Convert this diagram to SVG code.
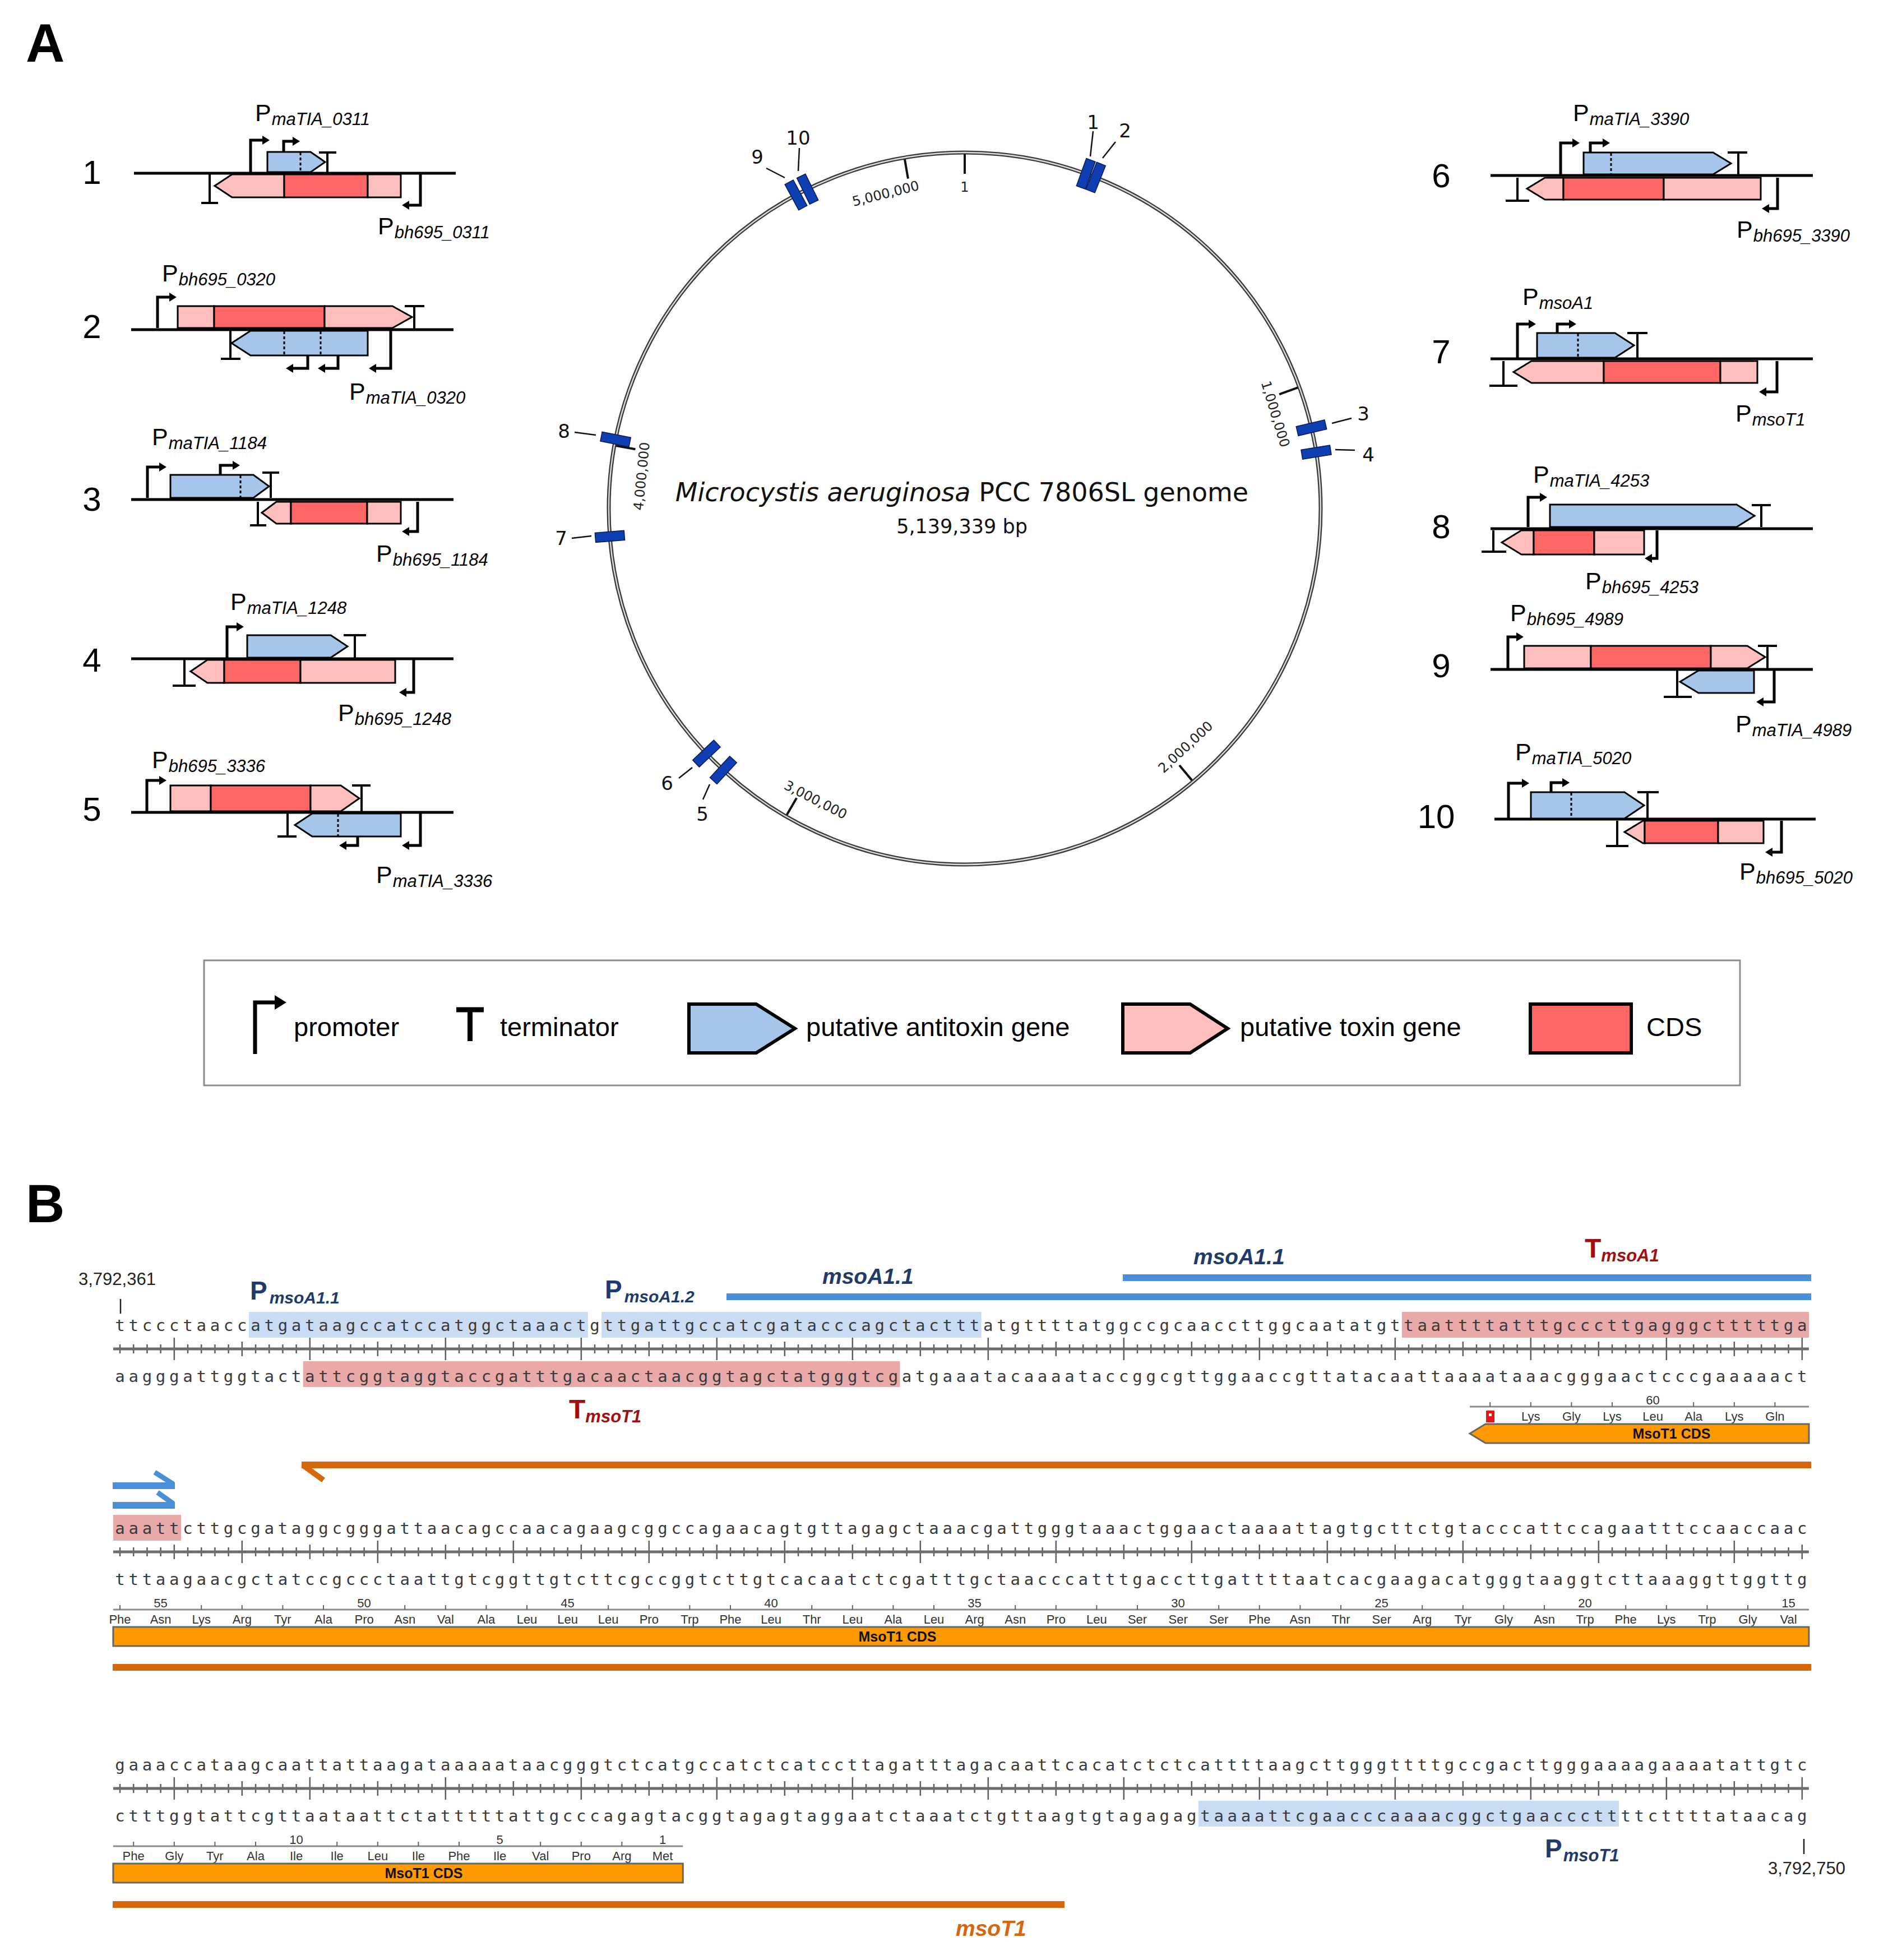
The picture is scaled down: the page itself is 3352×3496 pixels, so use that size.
<svg xmlns="http://www.w3.org/2000/svg" width="3352" height="3496" viewBox="0 0 3352 3496">
<style>
text{font-family:"Liberation Sans",Arial,sans-serif}
.num{font-size:60px}
.gl{font-size:43px}
.gs{font-size:31px;font-style:italic}
.bb{stroke:#000;stroke-width:5}
.g{stroke:#000;stroke-width:3}
.lp{fill:#ffbfbf}.rd{fill:#ff6666}.bl{fill:#a5c5ea}
.pr{fill:none;stroke:#000;stroke-width:5;marker-end:url(#ah)}
.tm{fill:none;stroke:#000;stroke-width:4}
.dt{stroke:#000;stroke-width:3;stroke-dasharray:5 4}
.dj{font-family:"DejaVu Sans",Verdana,sans-serif}
.sc{font-family:"DejaVu Sans",Verdana,sans-serif;font-size:24px;fill:#222}
.cn{font-family:"DejaVu Sans",Verdana,sans-serif;font-size:34px;fill:#111;text-anchor:middle}
.ld{stroke:#111;stroke-width:2.5}
.mk{fill:#0d3fb3;stroke:#061a55;stroke-width:1.5}
.lg{font-size:47px}
.seq{font-family:"DejaVu Sans Mono",monospace;font-size:29px;letter-spacing:6.74px;fill:#3a3a3a}
.aa{font-size:22px;fill:#333;text-anchor:middle}
.nv{fill:#1f3b6b;font-weight:bold}
.dr{fill:#a01010;font-weight:bold}
.hb{fill:#cadcf3}.hr{fill:#eaa9a9}
.cds{fill:#ff9900;stroke:#666;stroke-width:3}
.cdt{font-size:25px;font-weight:bold;fill:#111;text-anchor:middle}
.axl{stroke:#8c8c8c;stroke-width:3}
.axt{stroke:#666;stroke-width:2}
.rl{stroke:#6d6d6d;stroke-width:5}
.or{fill:#d5670c}.blu{fill:#4a8fd8}
</style>
<defs>
<marker id="ah" markerUnits="userSpaceOnUse" markerWidth="13" markerHeight="16" refX="0" refY="8" orient="auto" viewBox="0 0 13 16"><path d="M0,0 L13,8 L0,16 z" fill="#000"/></marker>
<pattern id="tk1" patternUnits="userSpaceOnUse" x="201.9" y="-20" width="242" height="40"><path d="M12.1,12v16M36.3,12v16M60.5,12v16M84.7,12v16M108.9,0v40M133.1,12v16M157.3,12v16M181.5,12v16M205.7,12v16M229.9,7v26" stroke="#555" stroke-width="2.4"/></pattern>
<pattern id="tk2" patternUnits="userSpaceOnUse" x="201.9" y="-20" width="242" height="40"><path d="M12.1,12v16M36.3,12v16M60.5,12v16M84.7,12v16M108.9,7v26M133.1,12v16M157.3,12v16M181.5,12v16M205.7,12v16M229.9,0v40" stroke="#555" stroke-width="2.4"/></pattern>
</defs>
<rect width="3352" height="3496" fill="#fff"/>

<text x="46" y="110" font-size="96" font-weight="bold">A</text>
<text x="46" y="2180" font-size="96" font-weight="bold">B</text>

<!-- Panel A numbers -->
<g id="numbers-left" class="num" text-anchor="middle">
<text x="164" y="328">1</text><text x="164" y="603">2</text><text x="164" y="911">3</text><text x="164" y="1198">4</text><text x="164" y="1464">5</text>
</g>
<g id="numbers-right" class="num" text-anchor="middle">
<text x="2571" y="334">6</text><text x="2571" y="648">7</text><text x="2571" y="960">8</text><text x="2571" y="1208">9</text><text x="2562" y="1477">10</text>
</g>

<g id="tas1">
<line class="bb" x1="239" y1="309" x2="813" y2="309"/>
<polygon class="g lp" points="383,331.5 414,311 507,311 507,352 414,352"/>
<rect class="g rd" x="507" y="311" width="149" height="41"/>
<rect class="g lp" x="656" y="311" width="59" height="41"/>
<polygon class="g bl" points="477,271 554,271 580,289 554,307 477,307"/>
<line class="dt" x1="536" y1="272" x2="536" y2="306"/>
<path class="pr" d="M447,307 V250 H468"/>
<path class="pr" d="M506,271 V252 H522"/>
<path class="tm" d="M584,307 V272 M569,272 H600"/>
<path class="tm" d="M374,311 V362 M359,362 H389"/>
<path class="pr" d="M750,311 V366 H730"/>
<text class="gl" x="455" y="216">P<tspan class="gs" dx="1" dy="7">maTIA_0311</tspan></text>
<text class="gl" x="674" y="418">P<tspan class="gs" dx="1" dy="7">bh695_0311</tspan></text>
</g>

<g id="tas2">
<line class="bb" x1="234" y1="588" x2="809" y2="588"/>
<rect class="g lp" x="317" y="546" width="65" height="39"/>
<rect class="g rd" x="382" y="546" width="197" height="39"/>
<polygon class="g lp" points="579,546 700,546 735,565.5 700,585 579,585"/>
<path class="pr" d="M281,585 V530 H302"/>
<path class="tm" d="M739,586 V546 M722,546 H757"/>
<polygon class="g bl" points="413,612 447,590 656,590 656,634 447,634"/>
<line class="dt" x1="507" y1="591" x2="507" y2="633"/>
<line class="dt" x1="572" y1="591" x2="572" y2="633"/>
<path class="tm" d="M411,590 V640 M394,640 H429"/>
<path class="pr" d="M549,634 V657 H523"/>
<path class="pr" d="M603,634 V657 H580"/>
<path class="pr" d="M697,590 V657 H671"/>
<text class="gl" x="289" y="502">P<tspan class="gs" dx="1" dy="7">bh695_0320</tspan></text>
<text class="gl" x="623" y="713">P<tspan class="gs" dx="1" dy="7">maTIA_0320</tspan></text>
</g>

<g id="tas3">
<line class="bb" x1="234" y1="891" x2="809" y2="891"/>
<polygon class="g bl" points="304,847 452,847 480,867.5 452,888 304,888"/>
<line class="dt" x1="429" y1="848" x2="429" y2="887"/>
<path class="pr" d="M263,888 V833 H284"/>
<path class="pr" d="M393,847 V830 H415"/>
<path class="tm" d="M483,888 V843 M468,843 H498"/>
<polygon class="g lp" points="467,914.5 493,895 519,895 519,934 493,934"/>
<rect class="g rd" x="519" y="895" width="136" height="39"/>
<rect class="g lp" x="655" y="895" width="60" height="39"/>
<path class="tm" d="M460,895 V937 M446,937 H475"/>
<path class="pr" d="M745,895 V948 H730"/>
<text class="gl" x="271" y="794">P<tspan class="gs" dx="1" dy="7">maTIA_1184</tspan></text>
<text class="gl" x="671" y="1002">P<tspan class="gs" dx="1" dy="7">bh695_1184</tspan></text>
</g>

<g id="tas4">
<line class="bb" x1="234" y1="1175" x2="809" y2="1175"/>
<polygon class="g bl" points="441,1133 590,1133 620,1153 590,1173 441,1173"/>
<path class="pr" d="M405,1173 V1118 H422"/>
<path class="tm" d="M633,1173 V1133 M613,1133 H653"/>
<polygon class="g lp" points="340,1197.5 370,1177 400,1177 400,1218 370,1218"/>
<rect class="g rd" x="400" y="1177" width="136" height="41"/>
<rect class="g lp" x="536" y="1177" width="169" height="41"/>
<path class="tm" d="M329,1177 V1223 M308,1223 H349"/>
<path class="pr" d="M738,1177 V1235 H725"/>
<text class="gl" x="411" y="1088">P<tspan class="gs" dx="1" dy="7">maTIA_1248</tspan></text>
<text class="gl" x="603" y="1286">P<tspan class="gs" dx="1" dy="7">bh695_1248</tspan></text>
</g>

<g id="tas5">
<line class="bb" x1="234" y1="1449" x2="809" y2="1449"/>
<rect class="g lp" x="304" y="1401" width="72" height="46"/>
<rect class="g rd" x="376" y="1401" width="178" height="46"/>
<polygon class="g lp" points="554,1401 608,1401 641,1424 608,1447 554,1447"/>
<path class="pr" d="M262,1447 V1392 H284"/>
<path class="tm" d="M645,1447 V1401 M628,1401 H661"/>
<polygon class="g bl" points="526,1471.5 557,1451 715,1451 715,1492 557,1492"/>
<line class="dt" x1="603" y1="1452" x2="603" y2="1491"/>
<path class="tm" d="M513,1451 V1492 M495,1492 H529"/>
<path class="pr" d="M638,1492 V1508 H618"/>
<path class="pr" d="M750,1451 V1508 H730"/>
<text class="gl" x="271" y="1370">P<tspan class="gs" dx="1" dy="7">bh695_3336</tspan></text>
<text class="gl" x="671" y="1575">P<tspan class="gs" dx="1" dy="7">maTIA_3336</tspan></text>
</g>

<g id="tas6">
<line class="bb" x1="2659" y1="313" x2="3234" y2="313"/>
<polygon class="g bl" points="2825,272 3056,272 3088,291.5 3056,311 2825,311"/>
<line class="dt" x1="2874" y1="273" x2="2874" y2="310"/>
<path class="pr" d="M2784,311 V255 H2805"/>
<path class="pr" d="M2837,272 V255 H2859"/>
<path class="tm" d="M3101,311 V272 M3082,272 H3117"/>
<polygon class="g lp" points="2724,336.5 2756,317 2789,317 2789,356 2756,356"/>
<rect class="g rd" x="2789" y="317" width="179" height="39"/>
<rect class="g lp" x="2968" y="317" width="173" height="39"/>
<path class="tm" d="M2707,317 V358 M2686,358 H2728"/>
<path class="pr" d="M3171,317 V372 H3156"/>
<text class="gl" x="2806" y="216">P<tspan class="gs" dx="1" dy="7">maTIA_3390</tspan></text>
<text class="gl" x="3098" y="424">P<tspan class="gs" dx="1" dy="7">bh695_3390</tspan></text>
</g>

<g id="tas7">
<line class="bb" x1="2659" y1="640" x2="3234" y2="640"/>
<polygon class="g bl" points="2742,594 2881,594 2915,616 2881,638 2742,638"/>
<line class="dt" x1="2815" y1="595" x2="2815" y2="637"/>
<path class="pr" d="M2707,638 V578 H2727"/>
<path class="pr" d="M2778,594 V578 H2799"/>
<path class="tm" d="M2921,638 V594 M2903,594 H2939"/>
<polygon class="g lp" points="2700,663.5 2732,644 2861,644 2861,683 2732,683"/>
<rect class="g rd" x="2861" y="644" width="208" height="39"/>
<rect class="g lp" x="3069" y="644" width="66" height="39"/>
<path class="tm" d="M2682,644 V688 M2657,688 H2707"/>
<path class="pr" d="M3170,644 V699 H3151"/>
<text class="gl" x="2716" y="544">P<tspan class="gs" dx="1" dy="7">msoA1</tspan></text>
<text class="gl" x="3096" y="752">P<tspan class="gs" dx="1" dy="7">msoT1</tspan></text>
</g>

<g id="tas8">
<line class="bb" x1="2659" y1="943" x2="3234" y2="943"/>
<polygon class="g bl" points="2765,900 3098,900 3130,920 3098,940 2765,940"/>
<path class="pr" d="M2726,940 V887 H2747"/>
<path class="tm" d="M3142,940 V901 M3125,901 H3159"/>
<polygon class="g lp" points="2679,967.5 2714,946 2736,946 2736,989 2714,989"/>
<rect class="g rd" x="2736" y="946" width="108" height="43"/>
<rect class="g lp" x="2844" y="946" width="89" height="43"/>
<path class="tm" d="M2664,946 V984 M2643,984 H2687"/>
<path class="pr" d="M2956,946 V996 H2947"/>
<text class="gl" x="2735" y="861">P<tspan class="gs" dx="1" dy="7">maTIA_4253</tspan></text>
<text class="gl" x="2828" y="1051">P<tspan class="gs" dx="1" dy="7">bh695_4253</tspan></text>
</g>

<g id="tas9">
<line class="bb" x1="2659" y1="1194" x2="3234" y2="1194"/>
<rect class="g lp" x="2719" y="1152" width="119" height="40"/>
<rect class="g rd" x="2838" y="1152" width="214" height="40"/>
<polygon class="g lp" points="3052,1152 3117,1152 3149,1172 3117,1192 3052,1192"/>
<path class="pr" d="M2690,1192 V1136 H2705"/>
<path class="tm" d="M3153,1192 V1152 M3136,1152 H3170"/>
<polygon class="g bl" points="2997,1216 3030,1196 3129,1196 3129,1236 3030,1236"/>
<path class="tm" d="M2992,1196 V1243 M2968,1243 H3018"/>
<path class="pr" d="M3165,1196 V1252 H3146"/>
<text class="gl" x="2694" y="1108">P<tspan class="gs" dx="1" dy="7">bh695_4989</tspan></text>
<text class="gl" x="3096" y="1306">P<tspan class="gs" dx="1" dy="7">maTIA_4989</tspan></text>
</g>

<g id="tas10">
<line class="bb" x1="2666" y1="1461" x2="3239" y2="1461"/>
<polygon class="g bl" points="2731,1413 2898,1413 2933,1436.5 2898,1460 2731,1460"/>
<line class="dt" x1="2803" y1="1414" x2="2803" y2="1459"/>
<path class="pr" d="M2691,1460 V1397 H2715"/>
<path class="pr" d="M2767,1413 V1396 H2787"/>
<path class="tm" d="M2939,1460 V1413 M2921,1413 H2959"/>
<polygon class="g lp" points="2898,1484 2931,1464 2934,1464 2934,1504 2931,1504"/>
<rect class="g rd" x="2934" y="1464" width="131" height="40"/>
<rect class="g lp" x="3065" y="1464" width="81" height="40"/>
<path class="tm" d="M2885,1464 V1509 M2865,1509 H2905"/>
<path class="pr" d="M3178,1464 V1520 H3162"/>
<text class="gl" x="2703" y="1356">P<tspan class="gs" dx="1" dy="7">maTIA_5020</tspan></text>
<text class="gl" x="3103" y="1569">P<tspan class="gs" dx="1" dy="7">bh695_5020</tspan></text>
</g>

<!-- genome map -->
<g id="genome">
<circle cx="1721" cy="907" r="635" fill="none" stroke="#3a3a3a" stroke-width="7"/>
<circle cx="1721" cy="907" r="635" fill="none" stroke="#dcdcdc" stroke-width="2.4"/>
<g stroke="#111" stroke-width="4">
<line x1="1721" y1="275" x2="1721" y2="310"/>
<line x1="1721" y1="275" x2="1721" y2="310" transform="rotate(70.05 1721 907)"/>
<line x1="1721" y1="275" x2="1721" y2="310" transform="rotate(140.1 1721 907)"/>
<line x1="1721" y1="275" x2="1721" y2="310" transform="rotate(210.15 1721 907)"/>
<line x1="1721" y1="275" x2="1721" y2="310" transform="rotate(280.2 1721 907)"/>
<line x1="1721" y1="275" x2="1721" y2="310" transform="rotate(350.25 1721 907)"/>
</g>
<text class="sc" x="1721" y="342" text-anchor="middle">1</text>
<text class="sc" x="1721" y="336" text-anchor="middle" transform="rotate(-14.1 1721 907)">5,000,000</text>
<text class="sc" x="1721" y="336" text-anchor="middle" transform="rotate(73.1 1721 907)">1,000,000</text>
<text class="sc" x="1721" y="336" text-anchor="middle" transform="rotate(-84.3 1721 907)">4,000,000</text>
<text class="sc" x="1721" y="1499" text-anchor="middle" transform="rotate(27.1 1721 907)">3,000,000</text>
<text class="sc" x="1721" y="1495" text-anchor="middle" transform="rotate(-42.8 1721 907)">2,000,000</text>
<text class="dj" x="1716" y="894" text-anchor="middle" font-size="46" fill="#111"><tspan font-style="italic">Microcystis aeruginosa</tspan> PCC 7806SL genome</text>
<text class="dj" x="1716" y="951" text-anchor="middle" font-size="35" fill="#111">5,139,339 bp</text>
<g class="mk">
<rect x="1712.5" y="246" width="17" height="52" transform="rotate(19.9 1721 907)"/>
<rect x="1712.5" y="246" width="17" height="52" transform="rotate(21.6 1721 907)"/>
<rect x="1712.5" y="246" width="17" height="52" transform="rotate(331.7 1721 907)"/>
<rect x="1712.5" y="246" width="17" height="52" transform="rotate(333.8 1721 907)"/>
<rect x="1712.5" y="246" width="17" height="52" transform="rotate(76.9 1721 907)"/>
<rect x="1712.5" y="246" width="17" height="52" transform="rotate(80.9 1721 907)"/>
<rect x="1712.5" y="246" width="17" height="52" transform="rotate(281.2 1721 907)"/>
<rect x="1712.5" y="246" width="17" height="52" transform="rotate(265.5 1721 907)"/>
<rect x="1712.5" y="246" width="17" height="52" transform="rotate(226.5 1721 907)"/>
<rect x="1712.5" y="246" width="17" height="52" transform="rotate(222.7 1721 907)"/>
</g>
<g class="ld">
<line x1="1950" y1="234" x2="1945" y2="279"/>
<line x1="1990" y1="253" x2="1967" y2="282"/>
<line x1="1367" y1="300" x2="1400" y2="317"/>
<line x1="1426" y1="264" x2="1424" y2="305"/>
<line x1="2376" y1="755" x2="2411" y2="746"/>
<line x1="2382" y1="802" x2="2417" y2="803"/>
<line x1="1025" y1="771" x2="1063" y2="776"/>
<line x1="1020" y1="960" x2="1055" y2="956"/>
<line x1="1211" y1="1388" x2="1235" y2="1369"/>
<line x1="1254" y1="1426" x2="1266" y2="1399"/>
</g>
<text class="cn" x="1950" y="230">1</text>
<text class="cn" x="2007" y="245">2</text>
<text class="cn" x="1351" y="292">9</text>
<text class="cn" x="1424" y="258">10</text>
<text class="cn" x="2432" y="750">3</text>
<text class="cn" x="2441" y="823">4</text>
<text class="cn" x="1006" y="781">8</text>
<text class="cn" x="1001" y="972">7</text>
<text class="cn" x="1190" y="1409">6</text>
<text class="cn" x="1253" y="1464">5</text>
</g>

<!-- legend -->
<g id="legend">
<rect x="364" y="1713" width="2740" height="223" fill="#fff" stroke="#8a8a8a" stroke-width="3"/>
<path d="M455,1880 V1788 H492" fill="none" stroke="#000" stroke-width="7"/>
<polygon points="490,1775 511,1788 490,1801" fill="#000"/>
<text class="lg" x="524" y="1848">promoter</text>
<path d="M814,1801 H863 M838.5,1801 V1857" fill="none" stroke="#000" stroke-width="9"/>
<text class="lg" x="892" y="1848">terminator</text>
<polygon points="1229,1791 1349,1791 1418,1834.5 1349,1878 1229,1878" fill="#a5c5ea" stroke="#000" stroke-width="6"/>
<text class="lg" x="1438" y="1848">putative antitoxin gene</text>
<polygon points="2003,1791 2123,1791 2190,1834.5 2123,1878 2003,1878" fill="#ffbfbf" stroke="#000" stroke-width="6"/>
<text class="lg" x="2212" y="1848">putative toxin gene</text>
<rect x="2730" y="1791" width="180" height="87" fill="#ff6666" stroke="#000" stroke-width="6"/>
<text class="lg" x="2937" y="1848">CDS</text>
</g>

<!-- Panel B -->
<g id="seq-row1">
<rect class="hb" x="443.9" y="2340" width="605" height="46"/>
<rect class="hb" x="1073.1" y="2340" width="677.6" height="46"/>
<rect class="hr" x="2500.9" y="2340" width="726" height="46"/>
<rect class="hr" x="540.7" y="2428" width="1064.8" height="46"/>
<text class="seq" x="205.27" y="2374">ttccctaaccatgataagccatccatggctaaactgttgattgccatcgatacccagctactttatgttttatggccgcaaccttggcaatatgttaattttatttgcccttgagggctttttga</text>
<text class="seq" x="205.27" y="2465">aagggattggtactattcggtaggtaccgatttgacaactaacggtagctatgggtcgatgaaatacaaaataccggcgttggaaccgttatacaattaaaataaacgggaactcccgaaaaact</text>
<g transform="translate(0,2406)">
<rect x="201.9" y="-20" width="3025" height="40" fill="url(#tk1)"/>
<line class="rl" x1="201.9" y1="0" x2="3226.9" y2="0"/>
</g>
<text x="140" y="2292" font-size="31" fill="#222">3,792,361</text>
<line x1="215" y1="2317" x2="215" y2="2343" stroke="#222" stroke-width="2.5"/>
<text class="nv" x="446" y="2318" font-size="46">P<tspan dx="4" dy="7" font-size="30" font-style="italic">msoA1.1</tspan></text>
<text class="nv" x="1079" y="2316" font-size="46">P<tspan dx="4" dy="7" font-size="30" font-style="italic">msoA1.2</tspan></text>
<rect class="blu" x="1296" y="2307" width="1935" height="12"/>
<rect class="blu" x="2003" y="2273" width="1228" height="12"/>
<text class="nv" x="1467" y="2290" font-size="39" font-style="italic">msoA1.1</text>
<text class="nv" x="2129" y="2255" font-size="39" font-style="italic">msoA1.1</text>
<text class="dr" x="2827" y="2243" font-size="48">T<tspan dy="7" font-size="31" font-style="italic">msoA1</tspan></text>
<text class="dr" x="1015" y="2530" font-size="48">T<tspan dy="7" font-size="31" font-style="italic">msoT1</tspan></text>
<line class="axl" x1="2622" y1="2509" x2="3227" y2="2509"/>
<path class="axt" d="M2658.2,2501v8M2730.8,2501v8M2803.4,2501v8M2876,2501v8M3021.2,2501v8M3093.8,2501v8M3166.4,2501v8"/>
<text class="aa" x="2948.6" y="2505">60</text>
<rect x="2651" y="2516" width="15" height="21" fill="#e8141b"/>
<rect x="2656" y="2521" width="5" height="5" fill="#fff"/>
<g class="aa"><text x="2730.8" y="2534">Lys</text><text x="2803.4" y="2534">Gly</text><text x="2876" y="2534">Lys</text><text x="2948.6" y="2534">Leu</text><text x="3021.2" y="2534">Ala</text><text x="3093.8" y="2534">Lys</text><text x="3166.4" y="2534">Gln</text></g>
<polygon class="cds" points="2622,2557 2650,2540 3227,2540 3227,2574 2650,2574"/>
<text class="cdt" x="2982" y="2566">MsoT1 CDS</text>
<rect class="or" x="538" y="2607" width="2693" height="12"/>
<line x1="541" y1="2614" x2="577" y2="2640" stroke="#d5670c" stroke-width="10"/>
</g>

<g id="seq-row2">
<rect class="blu" x="201" y="2644" width="111" height="12"/>
<line x1="309" y1="2647" x2="276" y2="2626" stroke="#4a8fd8" stroke-width="9"/>
<rect class="blu" x="201" y="2679" width="111" height="12"/>
<line x1="309" y1="2682" x2="281" y2="2662" stroke="#4a8fd8" stroke-width="9"/>
<rect class="hr" x="201.9" y="2702" width="121" height="46"/>
<text class="seq" x="205.27" y="2736">aaattcttgcgataggcgggattaacagccaacagaagcggccagaacagtgttagagctaaacgattgggtaaactggaactaaaattagtgcttctgtacccattccagaatttccaaccaac</text>
<text class="seq" x="205.27" y="2827">tttaagaacgctatccgccctaattgtcggttgtcttcgccggtcttgtcacaatctcgatttgctaacccatttgaccttgattttaatcacgaagacatgggtaaggtcttaaaggttggttg</text>
<g transform="translate(0,2768)">
<rect x="201.9" y="-20" width="3025" height="40" fill="url(#tk2)"/>
<line class="rl" x1="201.9" y1="0" x2="3226.9" y2="0"/>
</g>
<line class="axl" x1="201.9" y1="2871" x2="3226.9" y2="2871"/>
<path class="axt" d="M214,2863v8M359.2,2863v8M431.8,2863v8M504.4,2863v8M577,2863v8M722.2,2863v8M794.8,2863v8M867.4,2863v8M940,2863v8M1085.2,2863v8M1157.8,2863v8M1230.4,2863v8M1303,2863v8M1448.2,2863v8M1520.8,2863v8M1593.4,2863v8M1666,2863v8M1811.2,2863v8M1883.8,2863v8M1956.4,2863v8M2029,2863v8M2174.2,2863v8M2246.8,2863v8M2319.4,2863v8M2392,2863v8M2537.2,2863v8M2609.8,2863v8M2682.4,2863v8M2755,2863v8M2900.2,2863v8M2972.8,2863v8M3045.4,2863v8M3118,2863v8"/>
<g class="aa">
<text x="286.6" y="2867">55</text><text x="649.6" y="2867">50</text><text x="1012.6" y="2867">45</text><text x="1375.6" y="2867">40</text><text x="1738.6" y="2867">35</text><text x="2101.6" y="2867">30</text><text x="2464.6" y="2867">25</text><text x="2827.6" y="2867">20</text><text x="3190.6" y="2867">15</text>
<text x="214" y="2896">Phe</text><text x="286.6" y="2896">Asn</text><text x="359.2" y="2896">Lys</text><text x="431.8" y="2896">Arg</text><text x="504.4" y="2896">Tyr</text><text x="577" y="2896">Ala</text><text x="649.6" y="2896">Pro</text><text x="722.2" y="2896">Asn</text><text x="794.8" y="2896">Val</text><text x="867.4" y="2896">Ala</text><text x="940" y="2896">Leu</text><text x="1012.6" y="2896">Leu</text><text x="1085.2" y="2896">Leu</text><text x="1157.8" y="2896">Pro</text><text x="1230.4" y="2896">Trp</text><text x="1303" y="2896">Phe</text><text x="1375.6" y="2896">Leu</text><text x="1448.2" y="2896">Thr</text><text x="1520.8" y="2896">Leu</text><text x="1593.4" y="2896">Ala</text><text x="1666" y="2896">Leu</text><text x="1738.6" y="2896">Arg</text><text x="1811.2" y="2896">Asn</text><text x="1883.8" y="2896">Pro</text><text x="1956.4" y="2896">Leu</text><text x="2029" y="2896">Ser</text><text x="2101.6" y="2896">Ser</text><text x="2174.2" y="2896">Ser</text><text x="2246.8" y="2896">Phe</text><text x="2319.4" y="2896">Asn</text><text x="2392" y="2896">Thr</text><text x="2464.6" y="2896">Ser</text><text x="2537.2" y="2896">Arg</text><text x="2609.8" y="2896">Tyr</text><text x="2682.4" y="2896">Gly</text><text x="2755" y="2896">Asn</text><text x="2827.6" y="2896">Trp</text><text x="2900.2" y="2896">Phe</text><text x="2972.8" y="2896">Lys</text><text x="3045.4" y="2896">Trp</text><text x="3118" y="2896">Gly</text><text x="3190.6" y="2896">Val</text>
</g>
<rect class="cds" x="201.9" y="2902" width="3025" height="34"/>
<text class="cdt" x="1601" y="2928">MsoT1 CDS</text>
<rect class="or" x="201" y="2968" width="3030" height="12"/>
</g>

<g id="seq-row3">
<rect class="hb" x="2137.9" y="3212" width="750.2" height="46"/>
<text class="seq" x="205.27" y="3158">gaaaccataagcaattattaagataaaaataacgggtctcatgccatctcatccttagatttagacaattcacatctctcattttaagcttgggttttgccgacttgggaaaagaaaatattgtc</text>
<text class="seq" x="205.27" y="3249">ctttggtattcgttaataattctatttttattgcccagagtacggtagagtaggaatctaaatctgttaagtgtagagagtaaaattcgaacccaaaacggctgaacccttttcttttataacag</text>
<g transform="translate(0,3190)">
<rect x="201.9" y="-20" width="3025" height="40" fill="url(#tk1)"/>
<line class="rl" x1="201.9" y1="0" x2="3226.9" y2="0"/>
</g>
<line class="axl" x1="201.9" y1="3293" x2="1218.3" y2="3293"/>
<path class="axt" d="M238.2,3285v8M310.8,3285v8M383.4,3285v8M456,3285v8M601.2,3285v8M673.8,3285v8M746.4,3285v8M819,3285v8M964.2,3285v8M1036.8,3285v8M1109.4,3285v8"/>
<g class="aa">
<text x="528.6" y="3289">10</text><text x="891.6" y="3289">5</text><text x="1182" y="3289">1</text>
<text x="238.2" y="3318">Phe</text><text x="310.8" y="3318">Gly</text><text x="383.4" y="3318">Tyr</text><text x="456" y="3318">Ala</text><text x="528.6" y="3318">Ile</text><text x="601.2" y="3318">Ile</text><text x="673.8" y="3318">Leu</text><text x="746.4" y="3318">Ile</text><text x="819" y="3318">Phe</text><text x="891.6" y="3318">Ile</text><text x="964.2" y="3318">Val</text><text x="1036.8" y="3318">Pro</text><text x="1109.4" y="3318">Arg</text><text x="1182" y="3318">Met</text>
</g>
<rect class="cds" x="201.9" y="3324" width="1016.4" height="34"/>
<text class="cdt" x="756" y="3350">MsoT1 CDS</text>
<rect class="or" x="201" y="3391" width="1698" height="12"/>
<text x="1705" y="3453" font-size="39" font-weight="bold" font-style="italic" fill="#d5670c">msoT1</text>
<text class="nv" x="2756" y="3313" font-size="46">P<tspan dx="2" dy="7" font-size="31" font-style="italic">msoT1</tspan></text>
<line x1="3218" y1="3280" x2="3218" y2="3307" stroke="#222" stroke-width="2.5"/>
<text x="3154" y="3343" font-size="31" fill="#222">3,792,750</text>
</g>
</svg>
